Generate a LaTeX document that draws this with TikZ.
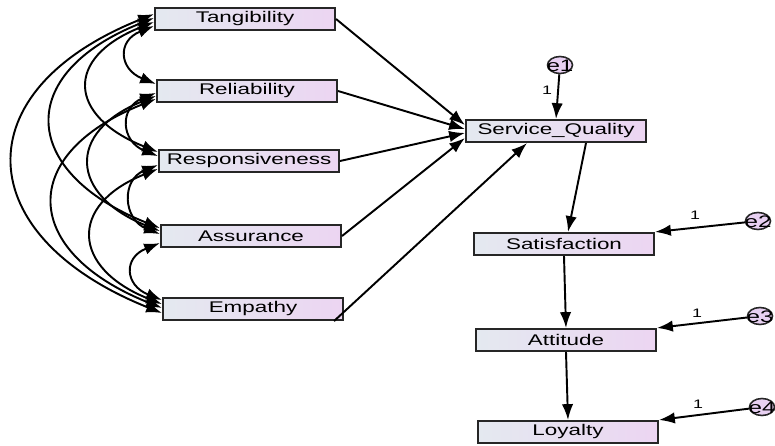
\documentclass[tikz,border=0pt]{standalone}
\usepackage{fontspec}
\usepackage{tikz}
\usetikzlibrary{arrows.meta,shapes.geometric}
\newfontfamily\amosfont[FakeStretch=1.45]{Liberation Sans}
\definecolor{boxleft}{RGB}{228,233,240}
\definecolor{boxright}{RGB}{236,213,242}
\definecolor{errfill}{RGB}{232,208,242}
\newcommand{\ErrLabel}[1]{\smash{\makebox[0pt]{\raisebox{-0.36em}{#1}}}}

\begin{document}
\begin{tikzpicture}[x=0.02cm, y=0.02cm,
  >={Latex[length=9pt,width=6.5pt]},
  var/.style={draw=black!85, line width=1.2pt, left color=boxleft,
    right color=boxright, minimum width=3.6cm, minimum height=0.44cm,
    inner sep=0pt, font=\amosfont\fontsize{8.8}{10}\selectfont},
  err/.style={ellipse, draw=black!85, line width=0.9pt, fill=errfill,
    minimum width=0.5cm, minimum height=0.34cm, inner sep=0pt,
    font=\amosfont\fontsize{9.5}{10}\selectfont},
  reg/.style={->, line width=1.1pt},
  cov/.style={<->, line width=1.1pt},
  one/.style={font=\amosfont\fontsize{7}{8}\selectfont}]

  \useasboundingbox (0,0) rectangle (775,-446);

  \newcommand\Cov[5]{%
    \draw[cov] ([yshift=#3]#1.west) .. controls +(-#5,-0.4*#5)
      and +(-#5,0.4*#5) .. ([yshift=#4]#2.west);}

  %% exogenous
  \node[var] (tang) at (245,-19) {Tangibility};
  \node[var] (reli) at (247,-91) {Reliability};
  \node[var] (resp) at (249,-161) {Responsiveness};
  \node[var] (assu) at (251,-236) {Assurance};
  \node[var] (empa) at (253,-309) {Empathy};

  %% endogenous
  \node[var] (servq) at (556,-131) {Service\_Quality};
  \node[var] (satis) at (564,-244) {Satisfaction};
  \node[var] (attit) at (566,-340) {Attitude};
  \node[var] (loyal) at (568,-432) {Loyalty};

  %% errors
  \node[err] (e1) at (560,-65) {\ErrLabel{e1}};
  \node[err] (e2) at (758,-221) {\ErrLabel{e2}};
  \node[err] (e3) at (760,-316) {\ErrLabel{e3}};
  \node[err] (e4) at (762,-407) {\ErrLabel{e4}};

  %% covariances
  \Cov{tang}{reli}{-4pt}{4pt}{37}
  \Cov{reli}{resp}{-1.1pt}{2.8pt}{37}
  \Cov{resp}{assu}{-2.3pt}{1.1pt}{37}
  \Cov{assu}{empa}{-4pt}{5.1pt}{37}
  \Cov{tang}{resp}{-1.7pt}{5.1pt}{90}
  \Cov{reli}{assu}{-2.8pt}{2.8pt}{90}
  \Cov{resp}{empa}{-4.5pt}{2.8pt}{90}
  \Cov{tang}{assu}{0.6pt}{4.5pt}{140}
  \Cov{reli}{empa}{-4.5pt}{0.6pt}{140}
  \Cov{tang}{empa}{2.8pt}{-2.3pt}{192}

  %% paths
  \draw[reg] (tang.east) -- ([yshift=3.4pt]servq.west);
  \draw[reg] (reli.east) -- ([yshift=1.1pt]servq.west);
  \draw[reg] (resp.east) -- ([yshift=-1.1pt]servq.west);
  \draw[reg] (assu.east) -- ([yshift=-4pt]servq.west);
  \draw[reg] ([xshift=-0.2cm]empa.south east) -- ([xshift=-0.58cm]servq.south);
  \draw[reg] ([xshift=0.6cm]servq.south) -- ([xshift=0.08cm]satis.north);
  \draw[reg] (satis.south) -- (attit.north);
  \draw[reg] (attit.south) -- (loyal.north);

  \draw[reg] (e1) -- (servq.north);
  \draw[reg] (e2) -- (satis.north east);
  \draw[reg] (e3) -- (attit.north east);
  \draw[reg] (e4) -- (loyal.north east);

  \node[one] (w1) at (547,-90) {1};
  \node[one] (w2) at (695,-215) {1};
  \node[one] (w3) at (697,-313) {1};
  \node[one] (w4) at (698,-404) {1};

\end{tikzpicture}
\end{document}
